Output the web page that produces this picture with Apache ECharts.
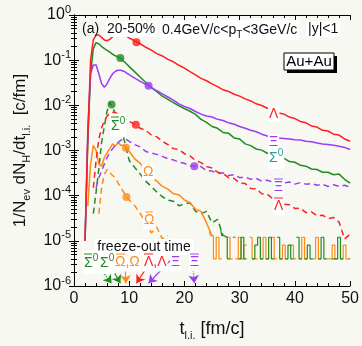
<!DOCTYPE html>
<html><head><meta charset="utf-8">
<script src="https://cdn.jsdelivr.net/npm/echarts@6/dist/echarts.min.js"></script>
<style>html,body{margin:0;padding:0;background:#f8f8f3;} #c{width:362px;height:346px;}</style>
</head><body><div id="c"></div>
<script>
// ---------------- data ----------------
const T = [1.5,2,2.5,3,3.5,4,4.5,5,5.5,6,6.5,7,7.5,8,8.5,9,9.5,10,
  11,12,13,14,15,16,17,18,19,20,21,22,23,24,25,26,27,28,29,30,
  31,32,33,34,35,36,37,38,39,40,41,42,43,44,45,46,47,48,49,50];

const lambda = [null,1e-5,2e-3,0.10,0.28,0.36,0.36,0.32,0.28,0.27,0.29,0.33,0.36,0.38,0.38,0.365,0.34,0.31,
  0.268,0.231,0.193,0.167,0.140,0.124,0.104,0.092,0.077,0.0668,
  0.0555,0.0472,0.0395,0.0350,0.0298,0.0260,0.0221,0.0203,0.0176,0.0160,
  0.0139,0.0125,0.0108,0.0099,0.0086,0.0079,0.0068,0.0064,0.0055,0.0051,
  0.0044,0.0041,0.0035,0.0033,0.0028,0.0027,0.0023,0.0022,0.0018,0.0016];

const sigma0 = [null,1e-5,1.5e-3,0.05,0.18,0.245,0.23,0.20,0.18,0.165,0.15,0.135,0.125,0.117,0.108,0.095,0.083,0.072,
  0.055,0.042,0.032,0.0245,0.020,0.016,0.0135,0.0115,0.0098,0.0085,
  0.0074,0.0063,0.0049,0.0042,0.0034,0.0031,0.0025,0.0024,0.0019,0.0018,
  0.0014,0.00128,0.00108,0.00102,0.00087,0.00083,0.00070,0.00068,0.00057,0.00055,
  0.00047,0.00045,0.00039,0.00038,0.00033,0.00033,0.00029,0.00030,0.00023,0.00019];

const xi = [null,1e-5,3e-3,0.05,0.078,0.078,0.05,0.03,0.025,0.03,0.04,0.05,0.057,0.06,0.06,0.057,0.052,0.048,
  0.040,0.034,0.029,0.025,0.021,0.018,0.0153,0.013,0.0108,0.0095,
  0.0085,0.0073,0.0064,0.0058,0.0055,0.0049,0.0046,0.0041,0.0038,0.0034,
  0.0031,0.0028,0.0026,0.0023,0.0021,0.0020,0.0019,0.00185,0.0018,0.00172,
  0.0017,0.0016,0.00156,0.00146,0.0014,0.00136,0.0013,0.00124,0.00117,0.00105];

const lambdaBar = [null,null,null,null,1.5e-4,6e-4,1.8e-3,3.2e-3,4.6e-3,5.8e-3,6.6e-3,7e-3,6.9e-3,6.4e-3,5.8e-3,5.3e-3,4.8e-3,4.4e-3,
  3.8e-3,3.1e-3,2.8e-3,2.2e-3,2.0e-3,1.6e-3,1.35e-3,1.1e-3,1.05e-3,8.5e-4,
  7.6e-4,6.0e-4,5.4e-4,4.4e-4,4.1e-4,3.3e-4,3.1e-4,2.5e-4,2.4e-4,1.9e-4,
  1.85e-4,1.45e-4,1.42e-4,1.1e-4,1.08e-4,8.5e-5,8.3e-5,6.5e-5,6.3e-5,5.2e-5,
  5.3e-5,4.2e-5,4.4e-5,3.6e-5,3.7e-5,3.1e-5,3.3e-5,2.6e-5,1.1e-5,1.4e-5];

const xiBar = [null,null,null,null,null,1.5e-4,2.5e-4,3.5e-4,5e-4,7e-4,9e-4,1.1e-3,1.3e-3,1.5e-3,1.7e-3,1.8e-3,1.75e-3,1.6e-3,
  1.35e-3,1.2e-3,9.5e-4,8.8e-4,8.2e-4,7.4e-4,6.6e-4,6.2e-4,5.5e-4,5.2e-4,
  4.6e-4,4.5e-4,4.4e-4,3.6e-4,3.5e-4,3.1e-4,3.2e-4,2.8e-4,2.9e-4,2.5e-4,
  2.6e-4,2.3e-4,2.4e-4,2.1e-4,2.2e-4,2.0e-4,2.1e-4,1.9e-4,2.0e-4,1.8e-4,
  1.95e-4,1.8e-4,1.85e-4,1.7e-4,1.8e-4,1.6e-4,1.75e-4,1.6e-4,1.7e-4,1.55e-4];

const omega = [null,null,6e-5,5e-4,1.3e-3,1.0e-3,5e-4,4.5e-4,7e-4,9e-4,1.1e-3,1.4e-3,1.25e-3,1.5e-3,1.3e-3,1.3e-3,1.15e-3,9.5e-4,
  6.5e-4,5.2e-4,3.5e-4,2.5e-4,2.1e-4,1.6e-4,1.4e-4,1.1e-4,1.05e-4,8e-5,
  7e-5,5e-5,4.5e-5,2.5e-5,1.3e-5];

const sigma0Bar = [null,null,null,null,4e-5,1.2e-4,4e-4,1.5e-3,3.5e-3,7.5e-3,1.15e-2,9e-3,6.5e-3,4.6e-3,3.3e-3,1.9e-3,1.05e-3,6e-4,
  4.2e-4,3e-4,2.1e-4,1.6e-4,1.2e-4,9.5e-5,8e-5,7.5e-5,6e-5,6.5e-5,
  7e-5,4.5e-5,4e-5,4.5e-5,2.5e-5,3e-5,1.3e-5];

const omegaBar = [null,null,null,null,null,null,4e-5,1.5e-4,3e-4,3.8e-4,3.2e-4,2.8e-4,2.5e-4,1.9e-4,1.5e-4,1.2e-4,9.5e-5,8e-5,
  6e-5,4e-5,2.6e-5,1.5e-5,2e-5,1.1e-5,1.3e-5];

// single-count noise floor of the Omega and anti-Sigma0 histograms (null = empty bin)
const omegaFloorT = [24.5,25,25.5,26,26.5,27,27.5,28,28.5,29,29.5,30,30.5,31,31.5,32,32.5,33,33.5,34,
  34.5,35,35.5,36,36.5,37,37.5,38,38.5,39,39.5,40,40.5,41,41.5,42,42.5,43,43.5,44,
  44.5,45,45.5,46,46.5,47,47.5,48,48.5,49,49.5,50];
const omegaFloor = [1.6e-5,1.3e-5,4e-6,1.2e-5,4e-6,null,1.2e-5,1.2e-5,4e-6,null,4e-6,1.2e-5,4e-6,8e-6,null,1.2e-5,4e-6,4e-6,null,4e-6,
  1.2e-5,4e-6,null,1.2e-5,4e-6,null,4e-6,8e-6,4e-6,null,8e-6,4e-6,null,4e-6,1.2e-5,4e-6,null,null,4e-6,1.2e-5,
  4e-6,null,null,4e-6,4e-6,8e-6,4e-6,null,4e-6,8e-6,4e-6,null];
const sigmaFloorT = [26.5,27,27.5,28,28.5,29,29.5,30,30.5,31,31.5,32,32.5,33,33.5,34,34.5,35,35.5,36,
  36.5,37,37.5,38,38.5,39,39.5,40,40.5,41,41.5,42,42.5,43,43.5,44,44.5,45,45.5,46,
  46.5,47,47.5,48,48.5,49,49.5,50];
const sigmaFloor = [2e-5,1.3e-5,1.2e-5,4e-6,null,1.2e-5,null,4e-6,1.2e-5,4e-6,null,null,4e-6,8e-6,1.2e-5,4e-6,null,4e-6,1.2e-5,4e-6,
  null,1.2e-5,4e-6,null,4e-6,8e-6,4e-6,null,1.2e-5,4e-6,null,4e-6,8e-6,4e-6,null,null,4e-6,1.2e-5,4e-6,null,
  null,4e-6,4e-6,1.2e-5,4e-6,null,null,4e-6];

// freeze-out markers
const markNames = ['Λ','Σ0','Ξ','Λbar','Σ0bar','Ξbar','Ω','Ωbar'];
const markT = [11.3, 8.4, 13.5, 11.2, 6.8, 21.8, 9.4, 9.5];
const markV = [0.25, 0.112, 0.027, 3.7e-3, 1.05e-2, 4.5e-4, 1.15e-3, 9.3e-5];

// freeze-out arrows (label position -> freeze-out time on axis)
const arrowFromT = [3.4, 5.9, 9.2, 14.2, 17.7, 21.4];
const arrowToT   = [6.8, 8.4, 9.4, 11.3, 13.5, 21.8];
const arrowFromV = 4e-6;
const arrowToV   = 1.15e-6;

const xTicks = [0, 10, 20, 30, 40, 50];
const yDecades = [-6, -5, -4, -3, -2, -1, 0];

// ---------------- style ----------------
const RED = '#ff1f1f', GREEN = '#1f8c1f', PURPLE = '#9b3cf5', ORANGE = '#ff8a14', TEAL = '#2f9c9c';
const fam = '"Liberation Sans", Arial, Helvetica, sans-serif';
const markColors = [RED, GREEN, PURPLE, RED, GREEN, PURPLE, ORANGE, ORANGE];
const arrowColors = [GREEN, GREEN, ORANGE, RED, PURPLE, PURPLE];
const arrowTypes = ['dotted', 'solid', 'solid', 'solid', 'solid', 'dotted'];

function pts(t, v) {
  const out = [];
  for (let i = 0; i < v.length; i++) if (v[i] != null) out.push([t[i], v[i]]);
  return out;
}
function ptsGaps(t, v) { return v.map((y, i) => [t[i], y == null ? '-' : y]); }
function lineSeries(name, data, color, dashed, extra) {
  return Object.assign({
    name, type: 'line', data, showSymbol: false, symbol: 'none', connectNulls: false,
    lineStyle: { color, width: 1.5, type: dashed ? [6, 4] : 'solid' },
    itemStyle: { color }, z: 3, silent: true, clip: true
  }, extra || {});
}

const chart = echarts.init(document.getElementById('c'), null, { renderer: 'canvas' });

// text helpers (left-aligned, vertically centred at y)
function txt(text, x, y, color, opt) {
  opt = opt || {};
  return { type: 'text', x, y, z: 20, style: Object.assign({
    text, fill: color, font: (opt.size || 14) + 'px ' + fam, align: opt.align || 'left', verticalAlign: 'middle',
    backgroundColor: opt.bg === false ? null : '#ffffff', padding: opt.pad || [1, 1]
  }, opt.rich ? { rich: opt.rich } : {}) };
}
function supRich(color) {
  return {
    m: { fill: color, fontSize: 14, fontFamily: fam, lineHeight: 20 },
    s: { fill: color, fontSize: 10, fontFamily: fam, verticalAlign: 'top', lineHeight: 10 }
  };
}
function bar(x1, x2, y, color) {
  return { type: 'line', z: 22, shape: { x1, y1: y, x2, y2: y }, style: { stroke: color, lineWidth: 1 } };
}

const graphics = [
  txt('(a)', 81, 29, '#111', { bg: false }),
  txt('20-50%', 105, 29, '#111', { pad: [1, 2] }),
  txt('{m|0.4GeV/c<p}{b|T}{m|<3GeV/c}', 160, 30, '#111', { pad: [0, 2],
      rich: { m: { fill: '#111', fontSize: 14, fontFamily: fam, lineHeight: 20 }, b: { fill: '#111', fontSize: 10, fontFamily: fam, verticalAlign: 'bottom', lineHeight: 10 } } }),
  txt('|y|<1', 306, 29, '#111', { pad: [1, 2] }),
  // Au+Au box with shadow
  { type: 'rect', shape: { x: 287, y: 56, width: 50, height: 17 }, style: { fill: '#000' }, z: 19 },
  { type: 'rect', shape: { x: 284, y: 53, width: 50, height: 17 }, style: { fill: '#fff', stroke: '#000', lineWidth: 1 }, z: 20 },
  { type: 'text', x: 309, y: 62, z: 21, style: { text: 'Au+Au', fill: '#000', font: '15px ' + fam, align: 'center', verticalAlign: 'middle' } },
  // curve labels (particles)
  txt('Λ', 268, 114, RED),
  txt('Ξ', 268, 142, PURPLE),
  txt('{m|Σ}{s|0}', 268, 158, TEAL, { rich: supRich(TEAL) }),
  txt('{m|Σ}{s|0}', 110, 125, GREEN, { rich: supRich(GREEN), pad: [3, 1, 0, 1] }), bar(111, 119, 117, GREEN),
  txt('Ω', 142, 172, ORANGE),
  txt('Ω', 143, 220, ORANGE, { pad: [4, 1, 1, 1] }), bar(145, 153, 212, ORANGE),
  txt('Ξ', 273, 187, PURPLE, { pad: [4, 1, 1, 1] }), bar(274, 283, 179, PURPLE),
  txt('Λ', 273, 206, RED, { pad: [4, 1, 1, 1] }), bar(274, 283, 198, RED),
  // freeze-out annotation
  txt('freeze-out time', 144, 247, '#111', { align: 'center', pad: [1, 3] }),
  txt('{m|Σ}{s|0}', 83, 262, GREEN, { rich: supRich(GREEN), pad: [3, 1, 0, 1] }), bar(84, 92, 254, GREEN),
  txt('{m|Σ}{s|0}', 99, 262, GREEN, { rich: supRich(GREEN), pad: [3, 1, 0, 1] }),
  txt('Ω,Ω', 114, 262, ORANGE, { pad: [4, 1, 1, 1] }), bar(116, 125, 254, ORANGE),
  txt('Λ,Λ', 143, 262, RED, { pad: [4, 1, 1, 1] }), bar(144, 153, 254, RED),
  txt('Ξ', 170, 262, PURPLE, { pad: [4, 1, 1, 1] }),
  txt('Ξ', 189, 262, PURPLE, { pad: [4, 1, 1, 1] }), bar(190, 199, 254, PURPLE)
];

const arrowData = arrowFromT.map((t0, i) => [
  { coord: [t0, arrowFromV], lineStyle: { color: arrowColors[i], type: arrowTypes[i], width: 1.2 }, itemStyle: { color: arrowColors[i] } },
  { coord: [arrowToT[i], arrowToV], itemStyle: { color: arrowColors[i] } }
]);

const yLabelRich = {
  b: { fontSize: 16, fontFamily: fam, color: '#111', lineHeight: 22 },
  s: { fontSize: 11, fontFamily: fam, color: '#111', verticalAlign: 'top', lineHeight: 11 }
};
const axisCommon = {
  axisLine: { show: true, lineStyle: { color: '#000', width: 1 } },
  axisTick: { show: true, inside: true, length: 5, lineStyle: { color: '#000' } },
  splitLine: { show: false }
};

const option = {
  backgroundColor: '#f8f8f3',
  animation: false,
  graphic: graphics,
  grid: { left: 74, right: 10, top: 15, bottom: 53, containLabel: false },
  xAxis: [Object.assign({
    type: 'value', min: xTicks[0], max: xTicks[xTicks.length - 1], interval: 10,
    minorTick: { show: true, splitNumber: 5, length: 3, lineStyle: { color: '#000' } },
    axisLabel: { fontSize: 16, fontFamily: fam, color: '#111', margin: 5 },
    name: '{n|t}{s|l.i.}{n| [fm/c]}', nameLocation: 'middle', nameGap: 31,
    nameTextStyle: { rich: {
      n: { fontSize: 18, fontFamily: fam, color: '#111', lineHeight: 24 },
      s: { fontSize: 11, fontFamily: fam, color: '#111', verticalAlign: 'bottom', lineHeight: 11 } } }
  }, axisCommon), Object.assign({
    type: 'value', position: 'top', min: 0, max: 50, interval: 10,
    minorTick: { show: true, splitNumber: 5, length: 3, lineStyle: { color: '#000' } },
    axisLabel: { show: false }
  }, axisCommon)],
  yAxis: [Object.assign({
    type: 'log', logBase: 10, min: Math.pow(10, yDecades[0]), max: Math.pow(10, yDecades[yDecades.length - 1]),
    minorTick: { show: true, splitNumber: 9, length: 3, lineStyle: { color: '#000' } },
    axisLabel: {
      margin: 3, showMinLabel: true, showMaxLabel: true,
      formatter: v => '{b|10}{s|' + Math.round(Math.log10(v)) + '}',
      rich: yLabelRich
    },
    name: '{n|1/N}{s|ev}{n| dN}{s|H}{n|/dt}{s|l.i.}{n|  [c/fm]}', nameLocation: 'middle', nameGap: 42, nameRotate: 90,
    nameTextStyle: { rich: {
      n: { fontSize: 17, fontFamily: fam, color: '#111', lineHeight: 24 },
      s: { fontSize: 11, fontFamily: fam, color: '#111', verticalAlign: 'bottom', lineHeight: 11 } } }
  }, axisCommon), Object.assign({
    type: 'log', logBase: 10, position: 'right', min: 1e-6, max: 1,
    minorTick: { show: true, splitNumber: 9, length: 3, lineStyle: { color: '#000' } },
    axisLabel: { show: false }
  }, axisCommon)],
  series: [
    lineSeries('Ω floor', ptsGaps(omegaFloorT, omegaFloor), ORANGE, false, { step: 'middle', lineStyle: { color: ORANGE, width: 1.2 } }),
    lineSeries('Σ0bar floor', ptsGaps(sigmaFloorT, sigmaFloor), GREEN, false, { step: 'middle', lineStyle: { color: GREEN, width: 1.2 } }),
    lineSeries('Σ0bar', pts(T, sigma0Bar), GREEN, true),
    lineSeries('Ωbar', pts(T, omegaBar), ORANGE, true),
    lineSeries('Ω', pts(T, omega), ORANGE, false),
    lineSeries('Ξbar', pts(T, xiBar), PURPLE, true),
    lineSeries('Λbar', pts(T, lambdaBar), RED, true),
    lineSeries('Σ0', pts(T, sigma0), GREEN, false),
    lineSeries('Ξ', pts(T, xi), PURPLE, false),
    lineSeries('Λ', pts(T, lambda), RED, false),
    {
      name: 'freeze-out', type: 'scatter', symbol: 'circle', symbolSize: 8, z: 6, silent: true,
      data: markT.map((t, i) => ({ name: markNames[i], value: [t, markV[i]], itemStyle: { color: markColors[i] } })),
      markLine: {
        silent: true, animation: false, symbol: ['none', 'arrow'], symbolSize: 8,
        label: { show: false }, data: arrowData
      }
    }
  ]
};
chart.setOption(option);
</script>
</body></html>
